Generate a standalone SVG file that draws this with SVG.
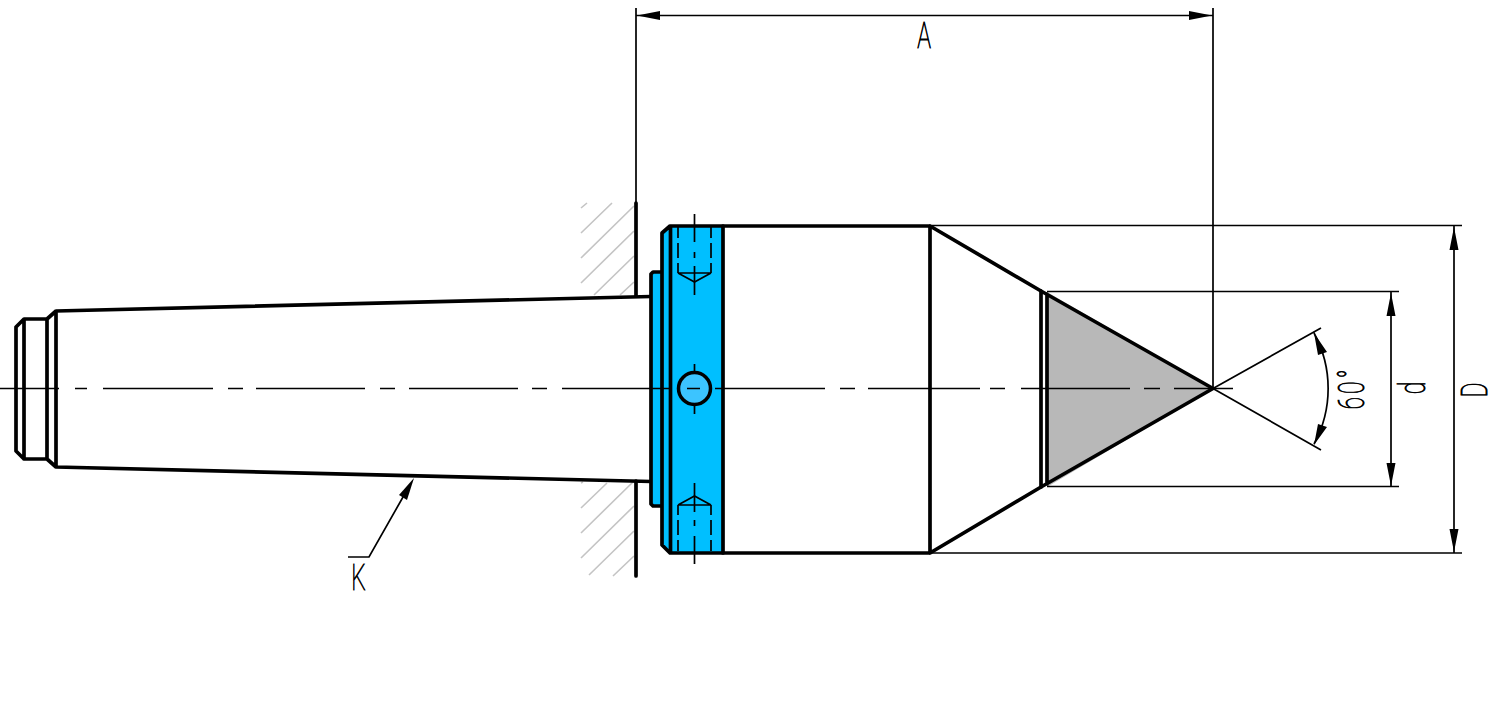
<svg xmlns="http://www.w3.org/2000/svg" width="1500" height="718" viewBox="0 0 1500 718">
<style>
.k{fill:none;stroke:#000;stroke-width:3.700;stroke-linejoin:round;stroke-linecap:round}
.t{fill:none;stroke:#000;stroke-width:1.700}
.h{fill:none;stroke:#c4c4c4;stroke-width:1.600}
.a{fill:#000;stroke:none}
.x{font-family:"Roboto","Liberation Sans",Arial,sans-serif;font-weight:100;font-size:37px;fill:#000;stroke:#000;stroke-width:.9px;text-anchor:middle}
</style>
<rect width="1500" height="718" fill="#fff"/>
<g id="wall">
<path class="h" d="M581 208L587 203M581 233L612 203M581 258L634 206M581 283L634 231M594 295L634 256M620 295L634 282M581 483L583 482M581 508L607 483M581 533L634 481M581 558L634 506M589 575L634 531M613 576L634 556"/>
<path class="k" d="M636 203V296M636 481V576"/>
</g>
<g id="taper">
<path class="k" d="M651 296.500L56 311L47 319H24L16 327V451L24 459H47L56 467L651 481.500M24 319V459M47 319V459M56 311V467"/>
</g>
<g id="collar">
<path d="M651 272H662V233L670 226H723V553H670L662 545V506H651Z" fill="#00bfff"/>
<path class="k" d="M723 226H670L662 233V272H653L651 274V504L653 506H662V545L670 553H723M662 272V506M670.500 226V553M723 226V553"/>
<path class="t" d="M678 227V238M678 243V258M678 263V273M711 227V238M711 243V258M711 263V273M678 551V540M678 535V520M678 515V505M711 551V540M711 535V520M711 515V505"/>
<path class="t" d="M678 273H711M678 273L694.500 282L711 273M678 505H711M678 505L694.500 496L711 505"/>
<path class="t" d="M694.500 214V242M694.500 252V258M694.500 266V295M694.500 483V512M694.500 520V526M694.500 536V564"/>
</g>
<g id="pin">
<circle cx="694.500" cy="388.500" r="16" fill="#3cc4ff" stroke="#000" stroke-width="3.500"/>
<path class="t" d="M694.500 364V374M694.500 403V414"/>
</g>
<g id="body">
<path class="k" d="M723 226H930V553H723M930 226L1041 291M930 553L1041 487"/>
</g>
<g id="tip">
<path d="M1047 292L1213 388.500L1047 487Z" fill="#b8b8b8"/>
<path class="k" d="M1041 291V487M1047 294V484M1041 291L1213 388.500L1041 487"/>
</g>
<g id="connectors">
<path class="t" d="M0 388.500H59M75 388.500H87M103 388.500H213M228 388.500H243M256 388.500H365M380 388.500H395M409 388.500H518M532 388.500H547M562 388.500H671M687 388.500H700M715 388.500H825M840 388.500H855M868 388.500H980M990 388.500H1005M1021 388.500H1130M1144 388.500H1160M1174 388.500H1233"/>
<path class="t" d="M636 8V203M1213 8V388.500M636 15.500H1213"/>
<path class="a" d="M637 15.500L660 11V20ZM1212 15.500L1189 11V20Z"/>
<path class="t" d="M930 225.500H1462M930 553H1462M1047 291.500H1399M1047 486.500H1399"/>
<path class="t" d="M1454 226V553M1391 292V487"/>
<path class="a" d="M1454 227L1449.500 250H1458.500ZM1454 552L1449.500 529H1458.500ZM1391 293L1386.500 316H1395.500ZM1391 486L1386.500 463H1395.500Z"/>
<path class="t" d="M1213 388.500L1321 328M1213 388.500L1321 450M1314 333A116 116 0 0 1 1314 444"/>
<path class="a" d="M1314 333L1327 352L1318 355ZM1314 445L1327 427L1318 424Z"/>
<path class="t" d="M348 557H369L407 490"/>
<path class="a" d="M414 478L399 495L407 500Z"/>
</g>
<g id="labels">
<text class="x" transform="translate(924 48) scale(.62 1)">A</text>
<text class="x" transform="translate(358.500 590) scale(.62 1)">K</text>
<text class="x" letter-spacing="5" transform="translate(1364 388) rotate(-90) scale(.62 1)">60°</text>
<text class="x" transform="translate(1425 388) rotate(-90) scale(.62 1)">d</text>
<text class="x" transform="translate(1487 390) rotate(-90) scale(.62 1)">D</text>
</g>
</svg>
